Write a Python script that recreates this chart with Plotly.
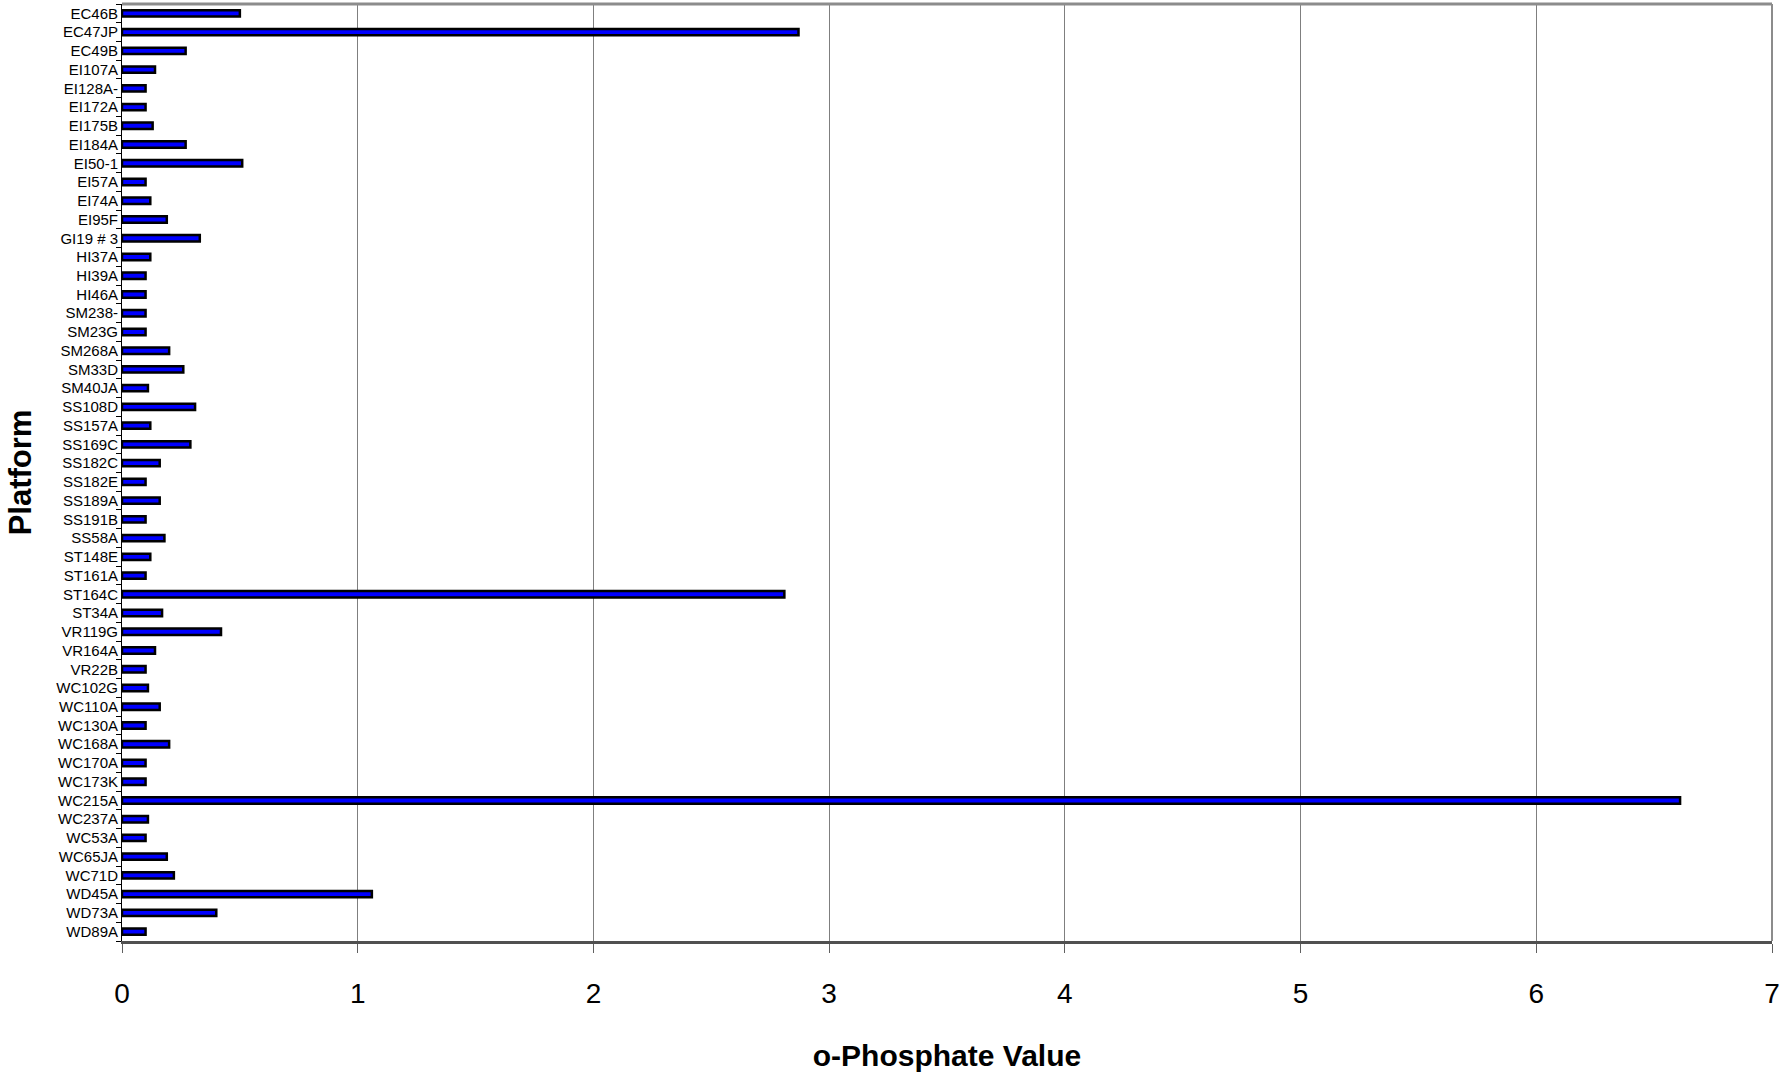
import plotly.graph_objects as go

platforms = [
    "EC46B", "EC47JP", "EC49B", "EI107A", "EI128A-", "EI172A", "EI175B", "EI184A",
    "EI50-1", "EI57A", "EI74A", "EI95F", "GI19 # 3", "HI37A", "HI39A", "HI46A",
    "SM238-", "SM23G", "SM268A", "SM33D", "SM40JA", "SS108D", "SS157A", "SS169C",
    "SS182C", "SS182E", "SS189A", "SS191B", "SS58A", "ST148E", "ST161A", "ST164C",
    "ST34A", "VR119G", "VR164A", "VR22B", "WC102G", "WC110A", "WC130A", "WC168A",
    "WC170A", "WC173K", "WC215A", "WC237A", "WC53A", "WC65JA", "WC71D", "WD45A",
    "WD73A", "WD89A",
]
phosphate = [
    0.50, 2.87, 0.27, 0.14, 0.10, 0.10, 0.13, 0.27,
    0.51, 0.10, 0.12, 0.19, 0.33, 0.12, 0.10, 0.10,
    0.10, 0.10, 0.20, 0.26, 0.11, 0.31, 0.12, 0.29,
    0.16, 0.10, 0.16, 0.10, 0.18, 0.12, 0.10, 2.81,
    0.17, 0.42, 0.14, 0.10, 0.11, 0.16, 0.10, 0.20,
    0.10, 0.10, 6.61, 0.11, 0.10, 0.19, 0.22, 1.06,
    0.40, 0.10,
]
x_ticks = [0, 1, 2, 3, 4, 5, 6, 7]

FONT = "Liberation Sans, Arial, sans-serif"

fig = go.Figure(
    go.Bar(
        x=phosphate,
        y=platforms,
        orientation="h",
        width=0.34,
        marker=dict(color="#0000FF", line=dict(color="#000000", width=2.5)),
        hoverinfo="x+y",
    )
)

fig.update_layout(
    width=1789,
    height=1076,
    margin=dict(l=122, r=17, t=4, b=135),
    paper_bgcolor="white",
    plot_bgcolor="white",
    showlegend=False,
    font=dict(family=FONT, color="black"),
)

fig.update_xaxes(
    range=[0, 7],
    tickmode="array",
    tickvals=x_ticks,
    ticktext=[str(v) for v in x_ticks],
    tickfont=dict(size=28, family=FONT, color="black"),
    ticks="outside",
    ticklen=9,
    tickcolor="#606060",
    tickwidth=1,
    ticklabelstandoff=16,
    showgrid=True,
    gridcolor="#7f7f7f",
    gridwidth=1,
    showline=True,
    linecolor="#505050",
    linewidth=3,
    mirror=False,
    zeroline=False,
    title=dict(text="<b>o-Phosphate Value</b>", font=dict(size=30, family=FONT, color="black"), standoff=38),
)

fig.update_yaxes(
    categoryorder="array",
    categoryarray=platforms,
    tickmode="array",
    tickvals=platforms,
    ticktext=platforms,
    autorange="reversed",
    tickfont=dict(size=15, family=FONT, color="black"),
    ticks="outside",
    tickson="boundaries",
    ticklen=5,
    tickcolor="#000000",
    tickwidth=1,
    showgrid=False,
    showline=True,
    linecolor="#000000",
    linewidth=1,
    zeroline=False,
    title=dict(text="<b>Platform</b>", font=dict(size=31, family=FONT, color="black"), standoff=15),
)

# top and right frame lines
fig.add_shape(type="line", xref="paper", yref="paper", x0=0, x1=1, y0=1, y1=1,
              line=dict(color="#8c8c8c", width=3))
fig.add_shape(type="line", xref="paper", yref="paper", x0=1, x1=1, y0=0, y1=1,
              line=dict(color="#8c8c8c", width=2))

fig.write_html("out.html")
